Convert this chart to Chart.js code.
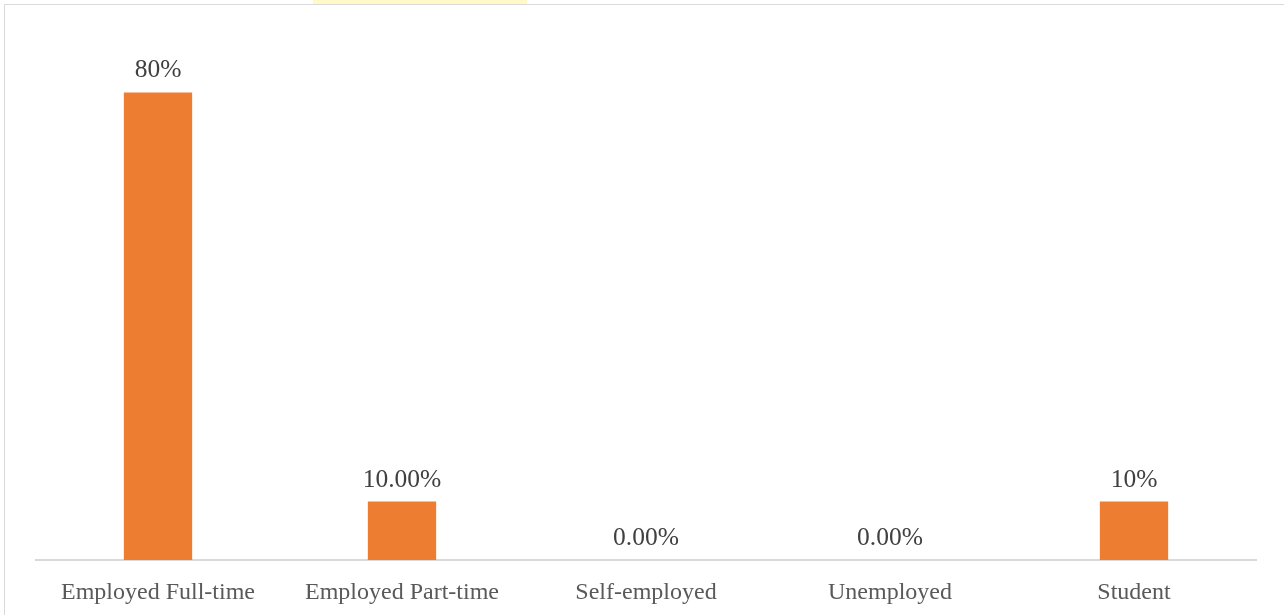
<!DOCTYPE html>
<html>
<head>
<meta charset="utf-8">
<script src="https://cdn.jsdelivr.net/npm/chart.js@4"></script>
<style>
    body { margin: 0; background: #ffffff; }
    .frame { position: absolute; left: 4px; top: 4px; width: 1300px; height: 640px; border: 1px solid #d9d9d9; }
    .tab { position: absolute; left: 313px; top: 0; width: 214px; height: 4px; background: #fff9c8; }
    .chart-box { position: absolute; left: 0; top: 0; width: 1284px; height: 615px; }
</style>
</head>
<body>
<div class="frame"></div>
<div class="tab"></div>
<div class="chart-box"><canvas id="statusChart"></canvas></div>
<script>
// Veriler
const categories = ['Employed Full-time', 'Employed Part-time', 'Self-employed', 'Unemployed', 'Student'];
const shares = [80, 10, 0, 0, 10];
const shareLabels = ['80%', '10.00%', '0.00%', '0.00%', '10%'];

// Bar üstü etiketler
const barLabels = {
    id: 'barLabels',
    afterDatasetsDraw(chart) {
        const ctx = chart.ctx;
        const meta = chart.getDatasetMeta(0);
        ctx.save();
        ctx.font = '25.5px "Liberation Serif", "Times New Roman", serif';
        ctx.fillStyle = '#404040';
        ctx.textAlign = 'center';
        ctx.textBaseline = 'alphabetic';
        meta.data.forEach(function(bar, i) {
            ctx.fillText(shareLabels[i], bar.x, bar.y - 15);
        });
        ctx.restore();
    }
};

document.addEventListener('DOMContentLoaded', function() {
    const ctx = document.getElementById('statusChart').getContext('2d');
    new Chart(ctx, {
        type: 'bar',
        data: {
            labels: categories,
            datasets: [{
                data: shares,
                backgroundColor: '#ed7d31',
                borderWidth: 0,
                categoryPercentage: 1,
                barPercentage: 0.28
            }]
        },
        options: {
            responsive: true,
            maintainAspectRatio: false,
            animation: false,
            layout: {
                padding: { top: 34, left: 36, right: 28, bottom: 0 }
            },
            scales: {
                x: {
                    grid: { display: false },
                    border: { display: true, color: '#d9d9d9', width: 2 },
                    ticks: {
                        color: '#595959',
                        padding: 10,
                        font: { family: '"Liberation Serif", "Times New Roman", serif', size: 24 }
                    },
                    afterFit: function(scale) { scale.height = 55; }
                },
                y: {
                    display: false,
                    min: 0,
                    max: 90
                }
            },
            plugins: {
                legend: { display: false },
                tooltip: { enabled: false }
            }
        },
        plugins: [barLabels]
    });
});
</script>
</body>
</html>
